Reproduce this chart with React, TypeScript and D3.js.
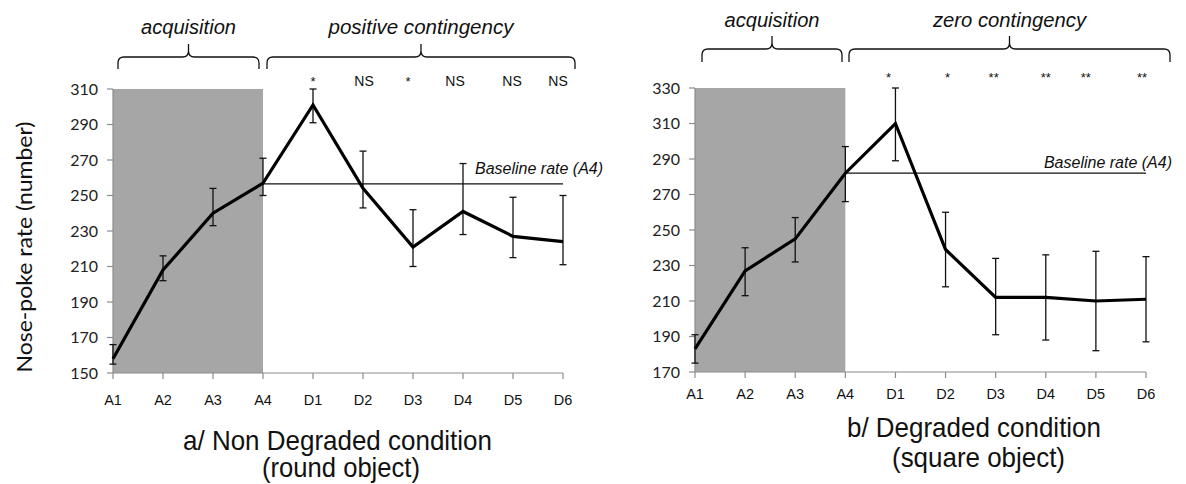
import React from "react";
import * as d3 from "d3";

const categories = ["A1", "A2", "A3", "A4", "D1", "D2", "D3", "D4", "D5", "D6"];

// Panel a: Non Degraded condition
const meanA = [158, 208, 240, 257, 301, 254, 221, 241, 227, 224];
const upperA = [166, 216, 254, 271, 310, 275, 242, 268, 249, 250];
const lowerA = [155, 202, 233, 250, 291, 243, 210, 228, 215, 211];
const baselineA = 256.5;
const ticksA = [150, 170, 190, 210, 230, 250, 270, 290, 310];
const signifA = ["*", "NS", "*", "NS", "NS", "NS"];

// Panel b: Degraded condition
const meanB = [183, 227, 245, 282, 310, 239, 212, 212, 210, 211];
const upperB = [191, 240, 257, 297, 330, 260, 234, 236, 238, 235];
const lowerB = [175, 213, 232, 266, 289, 218, 191, 188, 182, 187];
const baselineB = 282;
const ticksB = [170, 190, 210, 230, 250, 270, 290, 310, 330];
const signifB = ["*", "*", "**", "**", "**", "**"];

const phaseLabelsA = ["acquisition", "positive contingency"];
const phaseLabelsB = ["acquisition", "zero contingency"];
const titleA = ["a/ Non Degraded condition", "(round object)"];
const titleB = ["b/ Degraded condition", "(square object)"];
const yLabel = "Nose-poke rate (number)";
const baselineLabel = "Baseline rate (A4)";

const sans = "'Liberation Sans', Arial, sans-serif";
const calibri = "Lato, 'Open Sans', sans-serif";

function brace(x1: number, x2: number, tip: number, yTop: number, yEnd: number, yTip: number) {
  const r = 6;
  return [
    `M${x1},${yEnd}`,
    `L${x1},${yTop + r}`,
    `Q${x1},${yTop} ${x1 + r},${yTop}`,
    `L${tip - r},${yTop}`,
    `Q${tip},${yTop} ${tip},${yTop - r}`,
    `L${tip},${yTip}`,
    `M${tip},${yTop - r}`,
    `Q${tip},${yTop} ${tip + r},${yTop}`,
    `L${x2 - r},${yTop}`,
    `Q${x2},${yTop} ${x2},${yTop + r}`,
    `L${x2},${yEnd}`,
  ].join(" ");
}

type PanelProps = {
  x0: number;
  x1: number;
  yTopPx: number;
  yBotPx: number;
  ticks: number[];
  mean: number[];
  upper: number[];
  lower: number[];
  baseline: number;
  signif: string[];
  sigY: number;
  sigDx: number[];
  phases: string[];
  phaseY: number;
  phaseLen: [number, number];
  braceTop: number;
  braceEnd: number;
  braceTip: number;
  braceX: [number, number, number, number];
  title: string[];
  titleX: [number, number];
  titleY: [number, number];
  titleLen: [number, number];
  xLabelY: number;
  blTextX: number;
  blAnchor: string;
  blDy: number;
};

function Panel(p: PanelProps) {
  const x = d3.scalePoint<string>().domain(categories).range([p.x0, p.x1]);
  const y = d3
    .scaleLinear()
    .domain([p.ticks[0], p.ticks[p.ticks.length - 1]])
    .range([p.yBotPx, p.yTopPx]);
  const line = d3
    .line<number>()
    .x((_, i) => x(categories[i]) as number)
    .y((d) => y(d));
  const xA4 = x("A4") as number;
  const xD6 = x("D6") as number;
  const axisColor = "#8c8c8c";
  const dCats = categories.slice(4);
  const yMin = y(p.ticks[0]);
  const yMax = y(p.ticks[p.ticks.length - 1]);
  return (
    <g>
      <rect x={p.x0} y={yMax} width={xA4 - p.x0} height={yMin - yMax} fill="#a6a6a6" />
      {/* y axis */}
      <line x1={p.x0} x2={p.x0} y1={yMin} y2={yMax} stroke={axisColor} strokeWidth={1.2} />
      {p.ticks.map((t) => (
        <g key={t}>
          <line x1={p.x0 - 6} x2={p.x0} y1={y(t)} y2={y(t)} stroke={axisColor} strokeWidth={1.2} />
          <text x={p.x0 - 15} y={y(t)} dy="0.36em" textAnchor="end" fontFamily={calibri} fontSize={16} fill="#222">
            {t}
          </text>
        </g>
      ))}
      {/* x axis */}
      <line x1={p.x0} x2={p.x1} y1={yMin} y2={yMin} stroke={axisColor} strokeWidth={1.2} />
      {categories.map((c) => (
        <g key={c}>
          <line x1={x(c)} x2={x(c)} y1={yMin} y2={yMin + 6} stroke={axisColor} strokeWidth={1.2} />
          <text x={x(c) as number} y={p.xLabelY} textAnchor="middle" fontFamily={sans} fontSize={14.5} fill="#111">
            {c}
          </text>
        </g>
      ))}
      {/* baseline */}
      <line x1={xA4} x2={xD6} y1={y(p.baseline)} y2={y(p.baseline)} stroke="#111" strokeWidth={1.3} />
      <text x={p.blTextX} y={y(p.baseline) + p.blDy} textAnchor={p.blAnchor as any} fontFamily={sans} fontStyle="italic" fontSize={16} fill="#111">
        {baselineLabel}
      </text>
      {/* error bars */}
      {categories.map((c, i) => {
        const cx = x(c) as number;
        return (
          <g key={"e" + c} stroke="#111" strokeWidth={1.3}>
            <line x1={cx} x2={cx} y1={y(p.upper[i])} y2={y(p.lower[i])} />
            <line x1={cx - 3.5} x2={cx + 3.5} y1={y(p.upper[i])} y2={y(p.upper[i])} />
            <line x1={cx - 3.5} x2={cx + 3.5} y1={y(p.lower[i])} y2={y(p.lower[i])} />
          </g>
        );
      })}
      {/* mean line */}
      <path d={line(p.mean) || ""} fill="none" stroke="#000" strokeWidth={3.2} strokeLinejoin="miter" />
      {/* significance */}
      {dCats.map((c, i) => (
        <text
          key={"s" + c}
          x={(x(c) as number) + p.sigDx[i]}
          y={p.sigY}
          textAnchor="middle"
          fontFamily={sans}
          fontSize={p.signif[i] === "NS" ? 14 : 13}
          fill="#111"
        >
          {p.signif[i]}
        </text>
      ))}
      {/* braces */}
      <path d={brace(p.braceX[0], p.braceX[1], (p.braceX[0] + p.braceX[1]) / 2, p.braceTop, p.braceEnd, p.braceTip)} fill="none" stroke="#111" strokeWidth={1.3} />
      <path d={brace(p.braceX[2], p.braceX[3], (p.braceX[2] + p.braceX[3]) / 2, p.braceTop, p.braceEnd, p.braceTip)} fill="none" stroke="#111" strokeWidth={1.3} />
      <text
        x={(p.braceX[0] + p.braceX[1]) / 2}
        y={p.phaseY}
        textAnchor="middle"
        fontFamily={sans}
        fontStyle="italic"
        fontSize={20}
        textLength={p.phaseLen[0]}
        lengthAdjust="spacingAndGlyphs"
        fill="#111"
      >
        {p.phases[0]}
      </text>
      <text
        x={(p.braceX[2] + p.braceX[3]) / 2}
        y={p.phaseY}
        textAnchor="middle"
        fontFamily={sans}
        fontStyle="italic"
        fontSize={20}
        textLength={p.phaseLen[1]}
        lengthAdjust="spacingAndGlyphs"
        fill="#111"
      >
        {p.phases[1]}
      </text>
      {/* title */}
      {p.title.map((t, i) => (
        <text
          key={t}
          x={p.titleX[i]}
          y={p.titleY[i]}
          textAnchor="middle"
          fontFamily={sans}
          fontSize={28}
          textLength={p.titleLen[i]}
          lengthAdjust="spacingAndGlyphs"
          fill="#111"
        >
          {t}
        </text>
      ))}
    </g>
  );
}

export default function App() {
  return (
    <svg width={1186} height={484} style={{ position: "absolute", left: 0, top: 0, background: "#fff" }}>
      <rect width={1186} height={484} fill="#fff" />
      <text
        transform={`translate(32,247) rotate(-90)`}
        textAnchor="middle"
        fontFamily={calibri}
        fontSize={22}
        textLength={251}
        lengthAdjust="spacingAndGlyphs"
        fill="#111"
      >
        {yLabel}
      </text>
      <Panel
        x0={113}
        x1={563}
        yTopPx={89}
        yBotPx={373}
        ticks={ticksA}
        mean={meanA}
        upper={upperA}
        lower={lowerA}
        baseline={baselineA}
        signif={signifA}
        sigY={86}
        sigDx={[0, 1, -5, -8, -1, -5]}
        phases={phaseLabelsA}
        phaseY={34}
        phaseLen={[95, 185]}
        braceTop={57}
        braceEnd={69}
        braceTip={44}
        braceX={[118, 259, 267, 575]}
        title={titleA}
        titleX={[337.5, 341]}
        titleY={[450, 477]}
        titleLen={[309, 158]}
        xLabelY={405}
        blTextX={475}
        blAnchor="start"
        blDy={-10}
      />
      <Panel
        x0={695}
        x1={1146}
        yTopPx={88}
        yBotPx={372}
        ticks={ticksB}
        mean={meanB}
        upper={upperB}
        lower={lowerB}
        baseline={baselineB}
        signif={signifB}
        sigY={82}
        sigDx={[-7, 2, -2, 0, -10, -4]}
        phases={phaseLabelsB}
        phaseY={27}
        phaseLen={[95, 153]}
        braceTop={49}
        braceEnd={62}
        braceTip={36}
        braceX={[702, 842, 849, 1170]}
        title={titleB}
        titleX={[974, 978.5]}
        titleY={[437, 467]}
        titleLen={[254, 173]}
        xLabelY={399}
        blTextX={1172}
        blAnchor="end"
        blDy={-5}
      />
    </svg>
  );
}
